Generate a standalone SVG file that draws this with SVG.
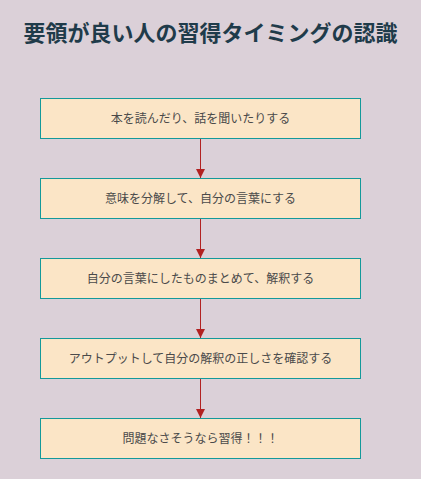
<svg xmlns="http://www.w3.org/2000/svg" width="421" height="479" viewBox="0 0 421 479">
<style>
.bg{fill:#dbd0d8}
.title{font-family:"Noto Sans CJK JP","Noto Sans CJK SC",sans-serif;font-size:22px;font-weight:bold;fill:#1f3b4a;text-anchor:middle}
.box{fill:#fbe5c6;stroke:#13999a;stroke-width:1}
.lbl{font-family:"Noto Sans CJK JP","Noto Sans CJK SC",sans-serif;font-size:12px;fill:#4a4a4a;text-anchor:middle}
.edge{stroke:#b22222;stroke-width:1;fill:none}
</style>
<defs>
<marker id="ah" viewBox="0 0 10 10" refX="10" refY="5" markerWidth="9" markerHeight="9" markerUnits="userSpaceOnUse" orient="auto">
<path d="M0,0 L10,5 L0,10 z" fill="#b22222"/>
</marker>
</defs>
<rect class="bg" x="0" y="0" width="421" height="479"/>
<text class="title" x="210.5" y="41">要領が良い人の習得タイミングの認識</text>
<g id="connectors">
<line class="edge" x1="200.5" y1="138.5" x2="200.5" y2="178" marker-end="url(#ah)"/>
<line class="edge" x1="200.5" y1="218.5" x2="200.5" y2="258" marker-end="url(#ah)"/>
<line class="edge" x1="200.5" y1="298.5" x2="200.5" y2="338" marker-end="url(#ah)"/>
<line class="edge" x1="200.5" y1="378.5" x2="200.5" y2="418" marker-end="url(#ah)"/>
</g>
<g id="n1"><rect class="box" x="40.5" y="98.5" width="320" height="40"/><text class="lbl" x="200.5" y="123">本を読んだり、話を聞いたりする</text></g>
<g id="n2"><rect class="box" x="40.5" y="178.5" width="320" height="40"/><text class="lbl" x="200.5" y="203">意味を分解して、自分の言葉にする</text></g>
<g id="n3"><rect class="box" x="40.5" y="258.5" width="320" height="40"/><text class="lbl" x="200.5" y="283">自分の言葉にしたものまとめて、解釈する</text></g>
<g id="n4"><rect class="box" x="40.5" y="338.5" width="320" height="40"/><text class="lbl" x="200.5" y="363">アウトプットして自分の解釈の正しさを確認する</text></g>
<g id="n5"><rect class="box" x="40.5" y="418.5" width="320" height="40"/><text class="lbl" x="200.5" y="443">問題なさそうなら習得！！！</text></g>
</svg>
